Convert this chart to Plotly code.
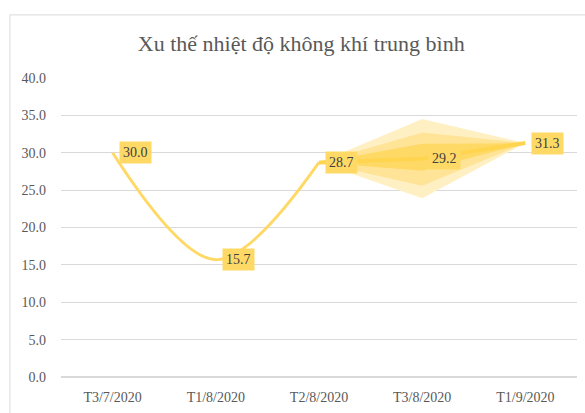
import plotly.graph_objects as go

categories = ["T3/7/2020", "T1/8/2020", "T2/8/2020", "T3/8/2020", "T1/9/2020"]
actual = [30.0, 15.7, 28.7]
forecast = [28.7, 29.2, 31.3]
outer_upper = [28.7, 34.5, 31.3]
outer_lower = [28.7, 23.9, 31.3]
middle_upper = [28.7, 32.7, 31.3]
middle_lower = [28.7, 25.6, 31.3]
inner_upper = [28.7, 31.2, 31.3]
inner_lower = [28.7, 27.6, 31.3]
y_ticks = [0, 5, 10, 15, 20, 25, 30, 35, 40]

xi = list(range(len(categories)))
xa = xi[:len(actual)]
xf = xi[len(categories) - len(forecast):]

SERIF = "Liberation Serif, Times New Roman, serif"

fig = go.Figure()

def band(up, lo, color):
    fig.add_trace(go.Scatter(
        x=xf + xf[::-1], y=up + lo[::-1], fill="toself", fillcolor=color,
        line=dict(width=0), mode="lines", hoverinfo="skip", showlegend=False))

band(outer_upper, outer_lower, "#FFF0C4")
band(middle_upper, middle_lower, "#FFE497")
band(inner_upper, inner_lower, "#FFD966")

fig.add_trace(go.Scatter(x=xa, y=actual, mode="lines",
                         line=dict(color="#FFD966", width=3, shape="spline", smoothing=1),
                         showlegend=False))
fig.add_trace(go.Scatter(x=xf, y=forecast, mode="lines",
                         line=dict(color="#FFD54F", width=4),
                         showlegend=False))

labels_x = xa + xf[1:]
labels_y = actual + forecast[1:]
for x, y in zip(labels_x, labels_y):
    fig.add_annotation(x=x, y=y, text=f"{y:.1f}", showarrow=False,
                       xanchor="left", yanchor="middle", xshift=6,
                       bgcolor="#FFD966", borderpad=3,
                       font=dict(family=SERIF, size=14, color="#404040"))

fig.add_shape(type="rect", xref="paper", yref="paper",
              x0=-0.099, x1=1.1, y0=-0.3, y1=1.211,
              line=dict(color="#D9D9D9", width=1), fillcolor="rgba(0,0,0,0)", layer="below")

fig.update_layout(
    width=585, height=413,
    margin=dict(l=61, r=8, t=78, b=32),
    paper_bgcolor="white", plot_bgcolor="white",
    title=dict(text="Xu thế nhiệt độ không khí trung bình", x=0.515, xanchor="center",
               y=1 - 43 / 413, yanchor="middle",
               font=dict(family=SERIF, size=22, color="#595959")),
    xaxis=dict(range=[-0.5, 4.5], tickmode="array", tickvals=xi, ticktext=categories,
               showgrid=False, zeroline=False, showline=False, ticks="",
               ticklabelstandoff=10,
               tickfont=dict(family=SERIF, size=14, color="#595959")),
    yaxis=dict(range=[0, 40], tickmode="array", tickvals=y_ticks,
               ticktext=[f"{v:.1f}" for v in y_ticks],
               showgrid=True, gridcolor="#D9D9D9", gridwidth=1, zeroline=True,
               zerolinecolor="#D9D9D9", showline=False, ticks="",
               ticklabelstandoff=14,
               tickfont=dict(family=SERIF, size=14, color="#595959")),
)

fig.write_html("out.html", config={"displayModeBar": False},
               post_script="document.body.style.margin='0';document.body.style.overflow='hidden';")
